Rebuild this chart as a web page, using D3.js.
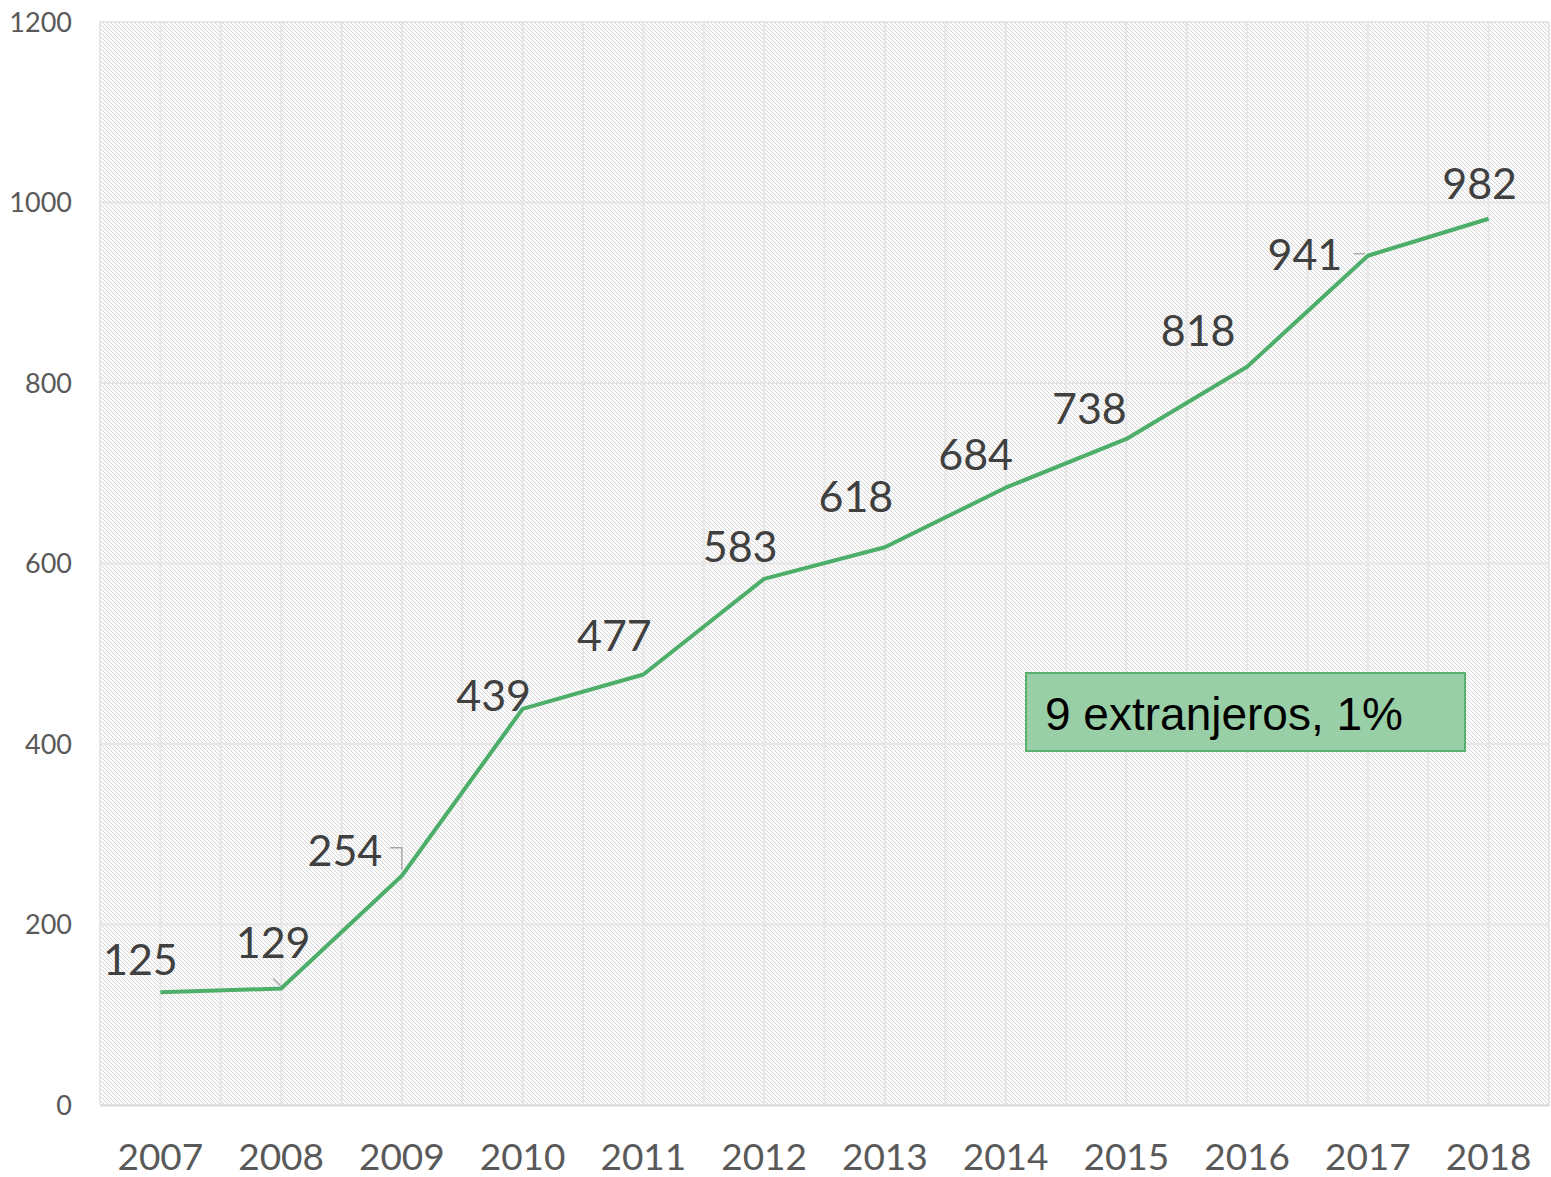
<!DOCTYPE html>
<html><head><meta charset="utf-8">
<script src="https://cdn.jsdelivr.net/npm/d3@7"></script>
<style>body{margin:0;background:#fff}svg{display:block}</style>
</head><body>
<script>
const years = ["2007","2008","2009","2010","2011","2012","2013","2014","2015","2016","2017","2018"];
const values = [125,129,254,439,477,583,618,684,738,818,941,982];
const yTicks = [0,200,400,600,800,1000,1200];
const noteText = "9 extranjeros, 1%";

// label layout (offset from point to label centre/baseline)
const labelDx = [-20,-8,-57,-29,-29,-24,-29,-30,-37,-49,-63,-9];
const labelDy = [-17,-31,-10,2,-24,-17,-35,-18,-15,-21,14,-20];

const W=1551,H=1177;
const m={l:100,r:2,t:22,b:72};
const svg=d3.select("body").append("svg").attr("width",W).attr("height",H);
const x=d3.scaleBand().domain(years).range([m.l,W-m.r]);
const y=d3.scaleLinear().domain([0,1200]).range([H-m.b,m.t]);

const defs=svg.append("defs");
const pat=defs.append("pattern").attr("id","hatch").attr("patternUnits","userSpaceOnUse")
  .attr("width",4).attr("height",4);
pat.append("rect").attr("width",4).attr("height",4).attr("fill","#fcfcfc");
pat.append("path").attr("d","M-1,-1L5,5M-1,3L1,5M3,-1L5,1").attr("stroke","#d6d6d6").attr("stroke-width",1);

svg.append("rect").attr("x",m.l).attr("y",m.t).attr("width",W-m.r-m.l).attr("height",H-m.b-m.t).attr("fill","url(#hatch)");

// vertical gridlines: band edges and centres
const g=svg.append("g");
const vx=[];
years.forEach(d=>{vx.push(x(d));vx.push(x(d)+x.bandwidth()/2);});
vx.push(x.range()[1]);
g.selectAll("line.v").data(vx).join("line").attr("class","v")
  .attr("x1",d=>d).attr("x2",d=>d).attr("y1",m.t).attr("y2",H-m.b)
  .attr("stroke","#e6e6e6").attr("stroke-width",2);
g.selectAll("line.h").data(yTicks).join("line").attr("class","h")
  .attr("x1",m.l).attr("x2",W-m.r).attr("y1",d=>y(d)).attr("y2",d=>y(d))
  .attr("stroke","#e6e6e6").attr("stroke-width",2);

// axes
const yAxis=svg.append("g").attr("transform",`translate(${m.l-28},0)`)
  .call(d3.axisLeft(y).tickValues(yTicks).tickFormat(d3.format("d")).tickSize(0).tickPadding(0));
yAxis.select(".domain").remove();
yAxis.selectAll("text").attr("font-family","Lato, 'Open Sans', sans-serif").attr("font-size",27).attr("fill","#595959").attr("dy","0.35em");

const xAxis=svg.append("g").attr("transform",`translate(0,${H-m.b})`)
  .call(d3.axisBottom(x).tickSize(0).tickPadding(52));
xAxis.select(".domain").attr("stroke","#d9d9d9").attr("stroke-width",2);
xAxis.selectAll("text").attr("font-family","Lato, 'Open Sans', sans-serif").attr("font-size",37).attr("fill","#595959").attr("dy","0.35em");

const cx=d=>x(d)+x.bandwidth()/2;
const line=d3.line().x((d,i)=>cx(years[i])).y(d=>y(d));
svg.append("path").datum(values).attr("d",line).attr("fill","none")
  .attr("stroke","#4dae69").attr("stroke-width",4).attr("stroke-linejoin","round");

// leader lines
const leaders=[
  {i:1,pts:[[-8,-10],[0,-2]]},
  {i:2,pts:[[-12,-28],[0,-28],[0,-6]]},
  {i:10,pts:[[-14,-2],[-3,-2]]}
];
leaders.forEach(L=>{
  const px=cx(years[L.i]),py=y(values[L.i]);
  svg.append("path").attr("d",d3.line()(L.pts.map(p=>[px+p[0],py+p[1]])))
    .attr("fill","none").attr("stroke","#a6a6a6").attr("stroke-width",1.3);
});

svg.append("g").selectAll("text").data(values).join("text")
  .attr("x",(d,i)=>cx(years[i])+labelDx[i]).attr("y",(d,i)=>y(d)+labelDy[i])
  .attr("text-anchor","middle").attr("font-family","Lato, 'Open Sans', sans-serif")
  .attr("font-size",43).attr("fill","#404040").text(d=>d);

// note box
const nb=svg.append("g");
nb.append("rect").attr("x",1026).attr("y",673).attr("width",439).attr("height",78)
  .attr("fill","#99cfa6").attr("stroke","#5cb06f").attr("stroke-width",2);
nb.append("text").attr("x",1045).attr("y",730).attr("font-family","'Liberation Sans', Arial, sans-serif")
  .attr("font-size",46).attr("fill","#000").text(noteText);
</script>
</body></html>
